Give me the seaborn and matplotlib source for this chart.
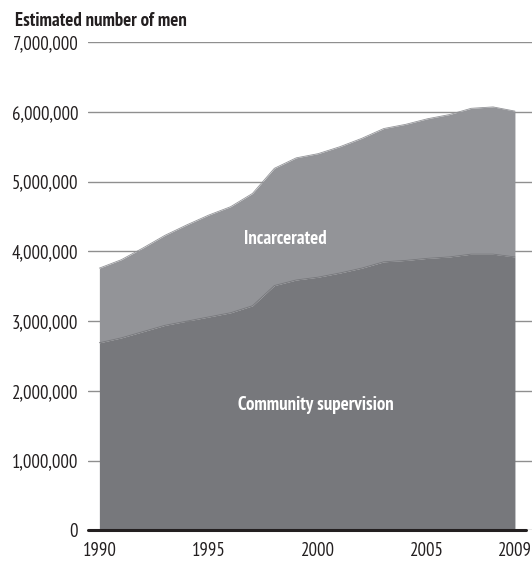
import matplotlib
matplotlib.use("Agg")
import matplotlib.pyplot as plt
import pandas as pd
import seaborn as sns
from matplotlib.ticker import FuncFormatter

years = list(range(1990, 2010))
community = [2.69, 2.76, 2.85, 2.94, 3.00, 3.06, 3.12, 3.22, 3.51, 3.59,
             3.63, 3.69, 3.76, 3.85, 3.87, 3.90, 3.92, 3.96, 3.96, 3.92]
total = [3.76, 3.88, 4.05, 4.23, 4.38, 4.52, 4.64, 4.83, 5.19, 5.34,
         5.40, 5.50, 5.62, 5.76, 5.82, 5.90, 5.96, 6.05, 6.07, 6.01]
yticks = [0, 1000000, 2000000, 3000000, 4000000, 5000000, 6000000, 7000000]
xticks = [1990, 1995, 2000, 2005, 2009]

df = pd.DataFrame({"year": years,
                   "community": [v * 1e6 for v in community],
                   "total": [v * 1e6 for v in total]})

sns.set_style("white")
plt.rcParams["font.family"] = ["PT Sans Narrow", "Roboto Condensed", "DejaVu Sans"]

fig = plt.figure(figsize=(5.32, 5.61), dpi=100)
ax = fig.add_axes([0.165, 0.0544, 0.835, 0.8707])

c_inc = "#939498"
c_com = "#77787c"

ax.fill_between(df["year"], df["community"], df["total"], color=c_inc, lw=0, zorder=2)
ax.fill_between(df["year"], 0, df["community"], color=c_com, lw=0, zorder=2)
sns.lineplot(data=df, x="year", y="total", ax=ax, color=c_inc, lw=0.6, zorder=3)
sns.lineplot(data=df, x="year", y="community", ax=ax, color=c_com, lw=0.6, zorder=3)

ax.set_xlim(1989.47, 2009.78)
ax.set_ylim(0, 7000000)
ax.set_yticks(yticks)
ax.set_xticks(xticks)
ax.yaxis.set_major_formatter(FuncFormatter(lambda v, p: format(int(v), ",")))
ax.grid(axis="y", color="#8f8f8f", lw=1.0, zorder=1)
ax.grid(axis="x", visible=False)
ax.set_axisbelow(True)
for s in ax.spines.values():
    s.set_visible(False)
ax.axhline(0, xmin=0, xmax=(2009.5 - 1989.47) / (2009.78 - 1989.47), color="#231f20", lw=2.2, zorder=4, clip_on=False)
ax.tick_params(axis="both", length=0, labelsize=13.5, colors="#231f20")
ax.tick_params(axis="y", pad=7)
ax.tick_params(axis="x", pad=8)
ax.set_xlabel("")
ax.set_ylabel("")

ax.text(1998.48, 4170000, "Incarcerated", color="white", fontsize=13.5,
        fontweight="bold", ha="center", va="center", zorder=5)
ax.text(1999.9, 1800000, "Community supervision", color="white", fontsize=13.5,
        fontweight="bold", ha="center", va="center", zorder=5)

fig.text(0.028, 0.962, "Estimated number of men", fontsize=13.5, fontweight="bold",
         color="#231f20", ha="left", va="center")

fig.savefig("out.png", dpi=100)
